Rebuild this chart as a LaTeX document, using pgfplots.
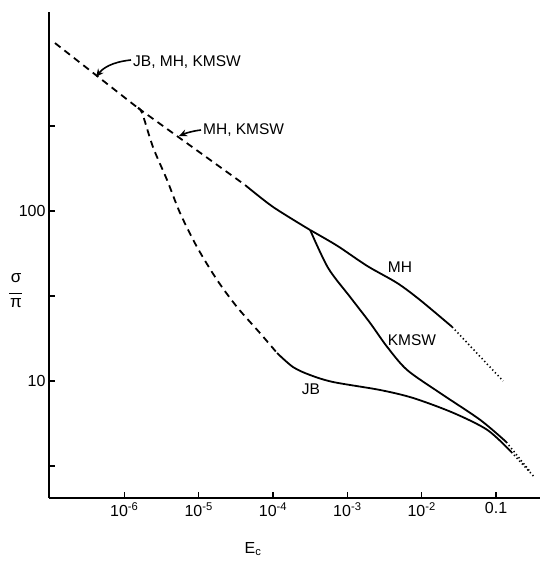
\documentclass[border=0pt]{standalone}
\usepackage{fontspec}
\setmainfont{Liberation Sans}
\usepackage{pgfplots}
\pgfplotsset{compat=1.18}
\usetikzlibrary{arrows.meta}
\begin{document}
\begin{tikzpicture}[x=1pt,y=1pt]
\path[use as bounding box] (-49,-66) rectangle (494,498);
\begin{axis}[
  at={(0,0)}, anchor=south west,
  scale only axis, width=491pt, height=486pt,
  xmode=log, ymode=log,
  xmin=9.7e-8, xmax=0.39, ymin=2.05, ymax=1482,
  axis lines=left, axis line style={-, line width=1.5pt},
  major tick style={line width=1.3pt, black}, major tick length=6pt,
  xminorticks=false, yminorticks=false,
  tick align=inside,
  xtick={1e-6,1e-5,1e-4,1e-3,1e-2,0.1},
  xticklabels={10\textsuperscript{-6},10\textsuperscript{-5},10\textsuperscript{-4},10\textsuperscript{-3},10\textsuperscript{-2},0.1},
  ytick={3.162,10,31.62,100,316.2},
  yticklabels={,10,,100,},
  every tick label/.append style={font=\fontsize{16}{18}\selectfont},
  xticklabel shift=1pt, yticklabel shift=0pt,
  /pgf/number format/assume math mode=true,
  clip=false,
]
% common dashed part
\addplot[black, line width=1.8pt, dash pattern=on 7pt off 5pt] coordinates {
 (1.167e-7,973) (1.528e-6,403.6)};
% MH, KMSW dashed
\addplot[black, line width=1.8pt, dash pattern=on 7pt off 5pt] coordinates {
 (1.528e-6,403.6) (4.21e-5,142.2)};
% MH, KMSW solid common
\addplot[black, line width=1.8pt, smooth] coordinates {
 (4.21e-5,142.2) (1e-4,105.7) (3.16e-4,77.3)};
% MH solid
\addplot[black, line width=1.8pt, smooth] coordinates {
 (3.16e-4,77.3) (7.29e-4,62.5) (1.85e-3,47.5) (4.68e-3,37.7) (9.55e-3,29.9) (0.0257,20.8)};
% MH dotted
\addplot[black, line width=1.6pt, dash pattern=on 1.3pt off 2.6pt] coordinates {
 (0.0257,20.8) (0.1245,10)};
% KMSW solid
\addplot[black, line width=1.8pt, smooth] coordinates {
 (3.16e-4,77.3) (5.52e-4,46.2) (1.09e-3,31.2) (2.03e-3,21.9) (3.44e-3,15.85) (6.38e-3,11.6) (0.01774,8.49) (0.0614,5.90) (0.1374,4.375)};
% KMSW dotted
\addplot[black, line width=1.6pt, dash pattern=on 1.3pt off 2.6pt] coordinates {
 (0.1374,4.375) (0.289,2.92)};
% JB dashed
\addplot[black, line width=1.8pt, dash pattern=on 7pt off 5pt, smooth] coordinates {
 (1.528e-6,403.6) (1.738e-6,376.7) (2.43e-6,237.7) (3.76e-6,152.1) (5.62e-6,97.3) (9.5e-6,61.4) (1.77e-5,39.3) (3.29e-5,27.2) (6.71e-5,19.1) (1.135e-4,14.6)};
% JB solid
\addplot[black, line width=1.8pt, smooth] coordinates {
 (1.135e-4,14.6) (1.86e-4,12.08) (3.16e-4,10.84) (6.46e-4,9.86) (2.77e-3,8.85) (7.71e-3,7.94) (0.0267,6.49) (0.0766,5.15) (0.161,3.82)};
% JB dotted
\addplot[black, line width=1.6pt, dash pattern=on 1.3pt off 2.6pt] coordinates {
 (0.161,3.82) (0.318,2.76)};
\end{axis}
% annotations (pt = reference pixels; origin at lower-left of axis box)
\begin{scope}[font=\fontsize{15.5}{16}\selectfont]
\node[anchor=west, inner sep=0pt] at (84,436) {JB, MH, KMSW};
\draw[line width=1.6pt, -{Stealth[length=8pt,width=7pt]}] (82,438) .. controls (63,436) and (54,430) .. (47,421);
\node[anchor=west, inner sep=0pt] at (154,368) {MH, KMSW};
\draw[line width=1.6pt, -{Stealth[length=8pt,width=7pt]}] (152,368) .. controls (144,367) and (137,365) .. (130,362);
\node at (351,231) {MH};
\node at (363,158) {KMSW};
\node at (262,109) {JB};
\node[align=center, inner sep=0pt, font=\fontsize{17}{17}\selectfont] at (-33,207) {σ\\[-6pt]\rule{13pt}{1.3pt}\\[-3pt]π};
\node[font=\fontsize{16}{16}\selectfont] at (204,-51) {E\textsubscript{c}};
\end{scope}
\end{tikzpicture}
\end{document}
